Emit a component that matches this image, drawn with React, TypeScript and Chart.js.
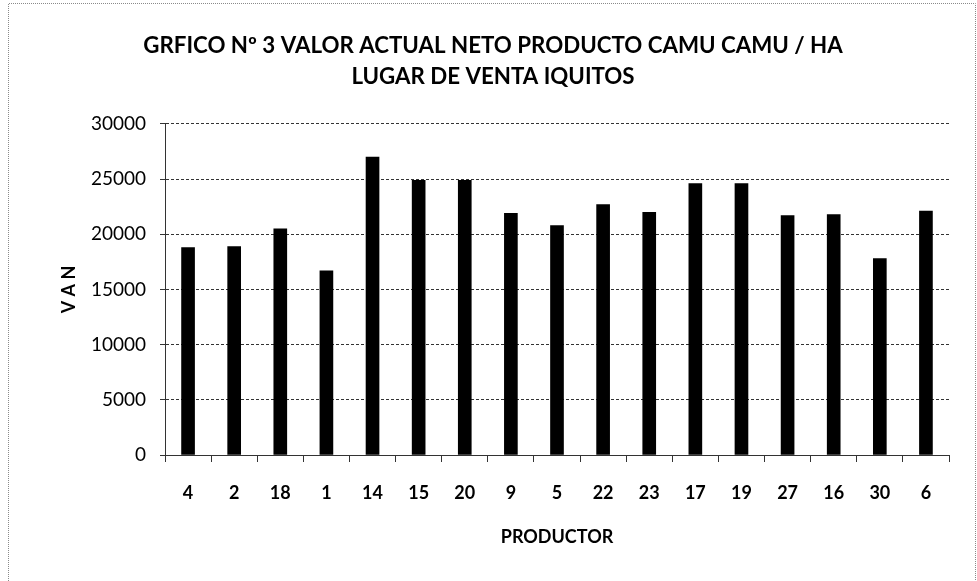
import React, { useEffect, useRef } from "react";
import { Chart, registerables } from "chart.js";

Chart.register(...registerables);

const titleLines = ["GRFICO Nº 3 VALOR ACTUAL NETO PRODUCTO CAMU CAMU / HA", "LUGAR DE VENTA IQUITOS"];
const productores = ["4", "2", "18", "1", "14", "15", "20", "9", "5", "22", "23", "17", "19", "27", "16", "30", "6"];
const van = [18800, 18900, 20500, 16700, 27000, 24900, 24900, 21900, 20800, 22700, 22000, 24600, 24600, 21700, 21800, 17800, 22100];
const yTitle = "V A N";
const xTitle = "PRODUCTOR";

const FONT = "Lato, 'Open Sans', sans-serif";

const framePlugin = {
  id: "frame",
  beforeDraw(chart: any) {
    const ctx = chart.ctx;
    ctx.save();
    ctx.fillStyle = "#ffffff";
    ctx.fillRect(0, 0, chart.width, chart.height);
    ctx.strokeStyle = "#8a8a8a";
    ctx.lineWidth = 1;
    ctx.setLineDash([1, 1]);
    ctx.beginPath();
    ctx.moveTo(8.5, chart.height);
    ctx.lineTo(8.5, 3.5);
    ctx.lineTo(chart.width - 1.5, 3.5);
    ctx.lineTo(chart.width - 1.5, chart.height);
    ctx.stroke();
    ctx.restore();
  },
};

export default function App() {
  const ref = useRef<HTMLCanvasElement | null>(null);
  useEffect(() => {
    document.body.style.margin = "0";
    const canvas = ref.current!;
    const chart = new Chart(canvas, {
      type: "bar",
      data: {
        labels: productores,
        datasets: [
          {
            data: van,
            backgroundColor: "#000000",
            borderWidth: 0,
            barThickness: 13,
          },
        ],
      },
      options: {
        animation: false,
        responsive: false,
        layout: { padding: { left: 37, right: 28, top: 0, bottom: 0 } },
        plugins: {
          legend: { display: false },
          tooltip: { enabled: false },
          title: {
            display: true,
            text: titleLines,
            color: "#000",
            font: { family: FONT, size: 22.3, weight: "bold", lineHeight: 1.39 },
            padding: { top: 30.5, bottom: 31.5 },
          },
        },
        scales: {
          x: {
            offset: true,
            grid: {
              display: true,
              drawOnChartArea: false,
              drawTicks: true,
              tickLength: 7,
              color: "#333",
              offset: true,
            },
            border: { display: true, color: "#333", dash: [3, 2] },
            ticks: {
              color: "#000",
              padding: 20,
              font: { family: FONT, size: 18, weight: "bold" },
              maxRotation: 0,
              autoSkip: false,
            },
            title: {
              display: true,
              text: xTitle,
              color: "#000",
              font: { family: FONT, size: 18, weight: "bold" },
              padding: { top: 0, bottom: 33 },
            },
            afterFit(scale: any) {
              scale.height = 126;
            },
          },
          y: {
            min: 0,
            max: 30000,
            ticks: {
              stepSize: 5000,
              color: "#000",
              padding: 14,
              font: { family: FONT, size: 19 },
              callback: (v: any) => String(v),
            },
            grid: {
              color: "#333",
              lineWidth: 1,
              tickLength: 5,
              tickBorderDash: [],
            },
            border: { display: true, color: "#333", dash: [3, 2] },
            title: {
              display: true,
              text: yTitle,
              color: "#000",
              font: { family: FONT, size: 18, weight: "bold" },
              padding: { top: 21, bottom: 0 },
            },
            afterFit(scale: any) {
              scale.width = 128;
            },
          },
        },
      },
      plugins: [framePlugin],
    });
    return () => chart.destroy();
  }, []);
  return <canvas ref={ref} width={977} height={581} style={{ display: "block", width: 977, height: 581 }} />;
}
